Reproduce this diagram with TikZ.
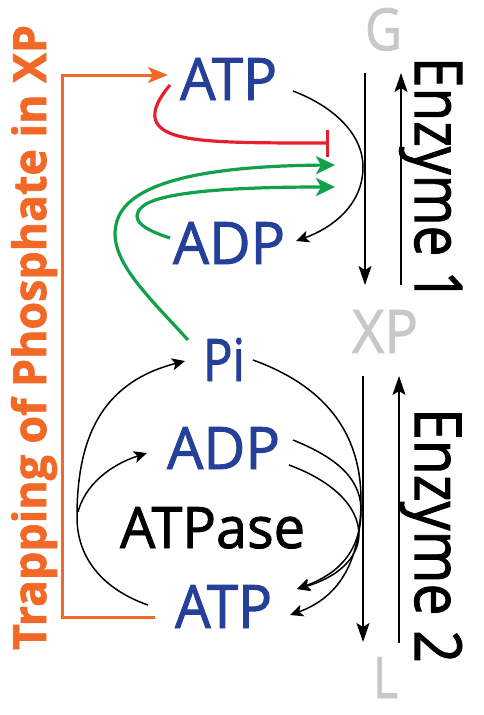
\documentclass[tikz,border=0pt]{standalone}
\usepackage{fontspec}
\setmainfont{Open Sans}
\newfontfamily\trapfont{Open Sans Bold}
\usepackage{graphicx}
\usetikzlibrary{arrows.meta}
\definecolor{myblue}{RGB}{36,64,152}
\definecolor{myorange}{RGB}{242,104,38}
\definecolor{myred}{RGB}{232,30,45}
\definecolor{mygreen}{RGB}{18,160,74}
\definecolor{mygray}{RGB}{200,200,200}
\newcommand\heavytxt[2]{\special{pdf:literal direct 2 Tr #1 w}#2\special{pdf:literal direct 0 Tr}}
\newcommand\fitt[3]{\resizebox{#1pt}{#2pt}{\heavytxt{0.16}{#3}}}
\tikzset{
  lab/.style={anchor=base west, inner sep=0pt, outer sep=0pt},
  mol/.style={lab, text=myblue},
  met/.style={lab, text=mygray},
  blk/.style={black, line width=1.5pt, -{Stealth[length=13pt,width=12pt,inset=3pt]}},
  vert/.style={black, line width=1.8pt, -{Stealth[length=19pt,width=13pt,inset=4pt]}},
  grn/.style={mygreen, line width=3.2pt, -{Stealth[length=19pt,width=18pt,inset=5pt]}},
}
\begin{document}
\begin{tikzpicture}[x=1pt,y=-1pt]
\useasboundingbox (0,0) rectangle (483,715);
% texts
\node[mol] (atp1) at (180,100) {\fitt{97}{42}{ATP}};
\node[mol] (adp1) at (173,264) {\fitt{112}{42}{ADP}};
\node[mol] (pi) at (203,381) {\fitt{42}{43}{Pi}};
\node[mol] (adp2) at (167,469) {\fitt{113}{42}{ADP}};
\node[lab] (atpase) at (120,548) {\fitt{185}{41}{ATPase}};
\node[mol] (atp2) at (175,628) {\fitt{97}{43}{ATP}};
\node[met] (g) at (365,50) {\fitt{37}{42}{G}};
\node[met] (xp) at (352,353) {\fitt{66}{43}{XP}};
\node[met] (l) at (373,698) {\fitt{25}{41}{L}};
\node[lab, rotate=-90] (enz1) at (415,57) {\fitt{245}{47}{Enzyme 1}};
\node[lab, rotate=-90] (enz2) at (415,408) {\fitt{255}{47}{Enzyme 2}};
\node[lab, rotate=90, text=myorange] (trap) at (46,650) {\fitt{625}{35}{\trapfont Trapping of Phosphate in XP}};
% coordinates
\coordinate (a1) at (365,73);  \coordinate (b1) at (365,285);
\coordinate (c1) at (401,285); \coordinate (d1) at (401,73);
\coordinate (a2) at (363,376); \coordinate (b2) at (363,642);
\coordinate (c2) at (399,643); \coordinate (d2) at (399,376);
% vertical arrows
\draw[vert] (a1) -- (b1);
\draw[vert] (c1) -- (d1);
\draw[vert] (a2) -- (b2);
\draw[vert] (c2) -- (d2);
% orange trapping bracket
\coordinate (o1) at (155,617); \coordinate (o2) at (62,617);
\coordinate (o3) at (62,75);   \coordinate (o4) at (168,75);
\draw[myorange, line width=3pt, -{Stealth[length=20pt,width=16pt,inset=5pt]}]
  (o1) -- (o2) -- (o3) -- (o4);
% upper black curve ATP -> ADP
\coordinate (u1) at (293,91); \coordinate (u2) at (296,241);
\draw[blk] (u1) .. controls (335,107) and (363,135) .. (363,167)
  .. controls (363,205) and (332,228) .. (u2);
% red inhibition
\coordinate (r1) at (170,85); \coordinate (r2) at (329,143);
\draw[myred, line width=3.2pt, -{Bar[width=27pt,line width=3.2pt]}]
  (r1) .. controls (155,103) and (143,125) .. (175,135)
  .. controls (200,143) and (250,143) .. (r2);
% green activations
\coordinate (g1) at (188,340); \coordinate (g2) at (335,165);
\draw[grn] (g1) .. controls (150,298) and (108,260) .. (116,225)
  .. controls (124,182) and (205,166) .. (g2);
\coordinate (h1) at (170,238); \coordinate (h2) at (335,187);
\draw[grn] (h1) .. controls (145,230) and (128,220) .. (142,207)
  .. controls (160,190) and (250,187) .. (h2);
% lower right curves
\coordinate (p1) at (253,360); \coordinate (t1) at (290,615);
\coordinate (q1) at (293,440); \coordinate (t2) at (297,589);
\coordinate (q2) at (289,465);
\draw[blk] (p1) .. controls (322,385) and (361,430) .. (361,500)
  .. controls (361,560) and (340,597) .. (t1);
\draw[blk] (q1) .. controls (330,455) and (361,475) .. (361,510)
  .. controls (361,550) and (340,573) .. (t2);
\draw[blk] (q2) .. controls (330,480) and (359,505) .. (359,535)
  .. controls (358,560) and (335,578) .. (t2);
% lower left curves
\coordinate (s1) at (148,605); \coordinate (s2) at (185,361);
\coordinate (s3) at (147,453);
\draw[blk] (s1) .. controls (105,590) and (77,560) .. (77,517)
  .. controls (77,440) and (100,383) .. (s2);
\draw[blk] (78,512) .. controls (85,485) and (110,465) .. (s3);
\end{tikzpicture}
\end{document}
